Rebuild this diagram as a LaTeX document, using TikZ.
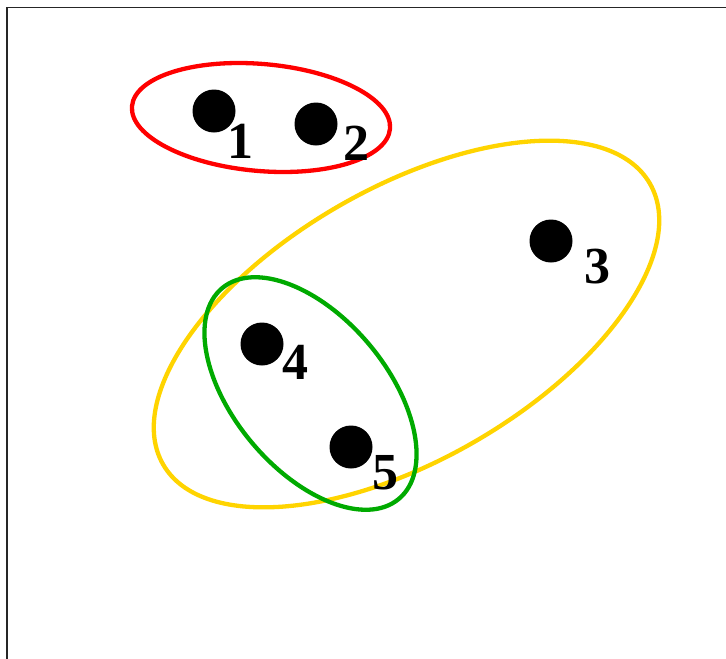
\documentclass[tikz,border=0pt]{standalone}
\usepackage{fontspec}
\setmainfont{Liberation Serif}
\begin{document}
\begin{tikzpicture}[x=1pt,y=1pt,
  dot/.style={circle,fill=black,inner sep=0pt,minimum size=43pt},
  lbl/.style={inner sep=0pt,anchor=base,font=\fontsize{52}{52}\selectfont\bfseries},
  ring/.style={line width=4.3pt}]
\useasboundingbox (0,0) rectangle (726,-659);
\definecolor{redc}{RGB}{255,0,0}
\definecolor{yelc}{RGB}{255,212,0}
\definecolor{grnc}{RGB}{0,170,0}
\coordinate (tl) at (7,-7.5);
\coordinate (tr) at (726,-7.5);
\coordinate (bl) at (7,-659);
\draw[line width=1.5pt,black!85] (bl) -- (tl) -- (tr);
% ellipses
\coordinate (cr) at (261,-117.5);
\coordinate (cy) at (406.5,-324);
\coordinate (cg) at (310.5,-393.5);
\draw[ring,redc,rotate around={-5:(cr)}] (cr) ellipse [x radius=129.5, y radius=53.5];
\draw[ring,yelc,rotate around={30:(cy)}] (cy) ellipse [x radius=281, y radius=136];
\draw[ring,grnc,rotate around={-50:(cg)}] (cg) ellipse [x radius=137.5, y radius=76.5];
% dots
\node[dot] (d1) at (214,-111) {};
\node[dot] (d2) at (316,-124) {};
\node[dot] (d3) at (551,-241) {};
\node[dot] (d4) at (262,-344) {};
\node[dot] (d5) at (351,-447) {};
% labels
\node[lbl] (l1) at (240,-158) {1};
\node[lbl] (l2) at (356,-160) {2};
\node[lbl] (l3) at (597,-283) {3};
\node[lbl] (l4) at (295,-379) {4};
\node[lbl] (l5) at (385,-489) {5};
\end{tikzpicture}
\end{document}
